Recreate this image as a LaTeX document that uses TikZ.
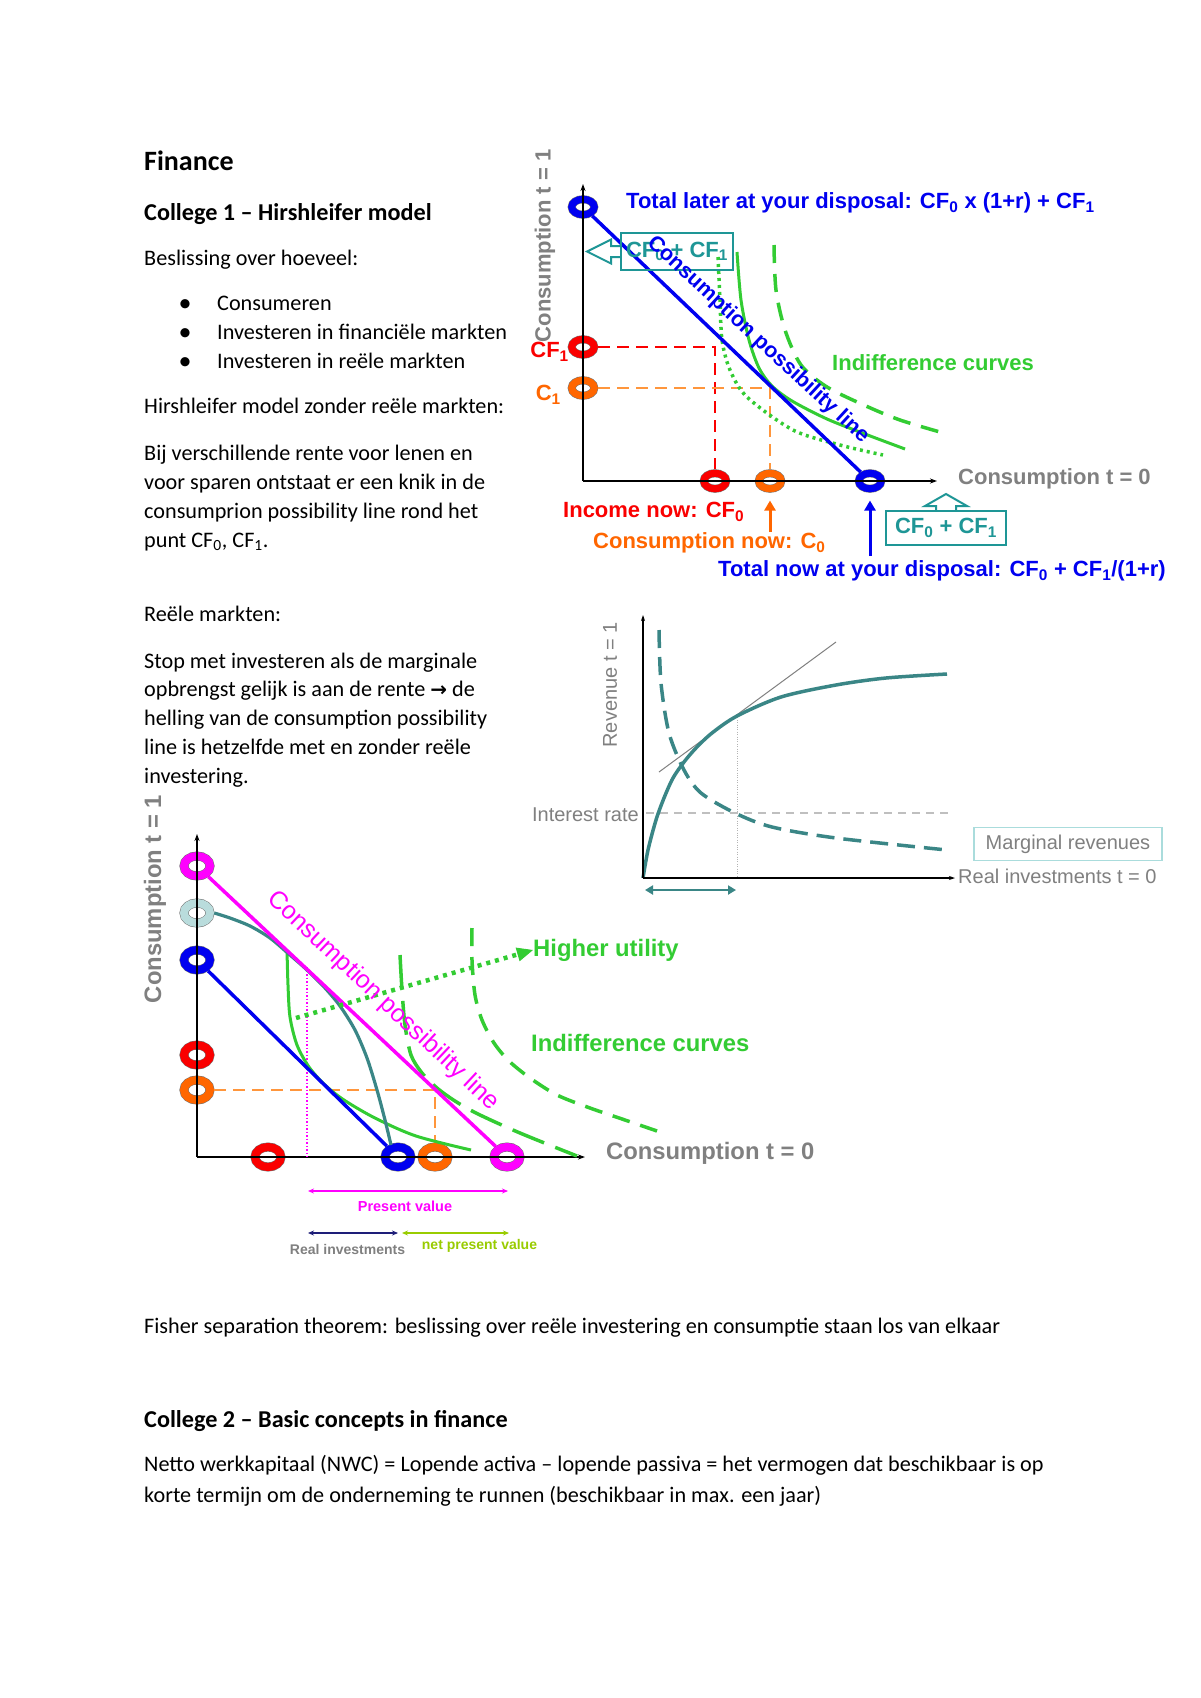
\documentclass[tikz,border=0pt]{standalone}
\usepackage{fontspec}
\setmainfont{Carlito}
\newfontfamily\arial{Liberation Sans}
\newfontfamily\dejavu{DejaVu Sans}
\usetikzlibrary{arrows.meta,shapes.geometric,calc}
\definecolor{cblue}{RGB}{0,0,240}
\definecolor{cred}{RGB}{250,0,0}
\definecolor{corange}{RGB}{255,102,0}
\definecolor{corangel}{RGB}{255,150,60}
\definecolor{cgreen}{RGB}{51,204,51}
\definecolor{cgray}{RGB}{128,128,128}
\definecolor{cteal}{RGB}{58,134,134}
\definecolor{cteal2}{RGB}{30,150,150}
\definecolor{cltteal}{RGB}{170,220,220}
\definecolor{cmag}{RGB}{255,0,255}
\definecolor{cpale}{RGB}{185,220,220}
\definecolor{cnavy}{RGB}{30,30,120}
\definecolor{cyg}{RGB}{153,204,0}
\begin{document}
\begin{tikzpicture}[x=1pt,y=-1pt,
  body/.style={anchor=base west,inner sep=0pt,font=\fontsize{22.2}{26}\selectfont},
  head/.style={anchor=base west,inner sep=0pt,font=\bfseries\fontsize{24.2}{28}\selectfont},
  lbl/.style={inner sep=0pt,font=\arial\bfseries\fontsize{22}{26}\selectfont},
  lblbig/.style={inner sep=0pt,font=\arial\bfseries\fontsize{23.8}{28}\selectfont},
  lblr/.style={inner sep=0pt,font=\arial\fontsize{20}{24}\selectfont,text=cgray},
  lblsmall/.style={inner sep=0pt,font=\arial\bfseries\fontsize{14.5}{17}\selectfont},
  ring/.style={ellipse,draw=black!55,line width=0.5pt,double=#1,double distance=7pt,fill=white,minimum width=22.5pt,minimum height=15.5pt,inner sep=0pt,outer sep=3.8pt},
  bigring/.style={ring=#1,double distance=8pt,minimum width=26pt,minimum height=20pt,outer sep=4.3pt},
  axisline/.style={line width=1.6pt,-{Stealth[length=7pt,width=5pt]}},
  tbox/.style={draw=cteal2,line width=2pt,text=cteal2,font=\arial\bfseries\fontsize{22}{26}\selectfont,inner sep=0pt},
  reddash/.style={cred,line width=1.6pt,dash pattern=on 12pt off 7pt},
  orangedash/.style={corangel,line width=1.8pt,dash pattern=on 12pt off 7pt},
  greensolid/.style={cgreen,line width=3pt},
  greendot/.style={cgreen,line width=3.5pt,dash pattern=on 3pt off 4pt},
  greendash/.style={cgreen,line width=3.5pt,dash pattern=on 18pt off 11pt},
  uparrow/.style={line width=3pt,-{Triangle[length=10pt,width=11pt]}},
  dbl/.style={line width=1.4pt,{Stealth[length=6pt,width=5pt]}-{Stealth[length=6pt,width=5pt]}}
]
\useasboundingbox (0,0) rectangle (1200,1698);
\fill[white] (0,0) rectangle (1200,1698);

%% ---------------- left column text ----------------
\node[head,font=\bfseries\fontsize{28}{32}\selectfont] (fin) at (144,170) {Finance};
\node[head] (col1) at (144,220) {College 1 – Hirshleifer model};
\node[body] (b1) at (144,265) {Beslissing over hoeveel:};
\node[body,anchor=base,font=\fontsize{26}{26}\selectfont] (bu1) at (185,311) {•};
\node[body] (l1) at (217,310) {Consumeren};
\node[body,anchor=base,font=\fontsize{26}{26}\selectfont] (bu2) at (185,340) {•};
\node[body] (l2) at (217,339) {Investeren in financiële markten};
\node[body,anchor=base,font=\fontsize{26}{26}\selectfont] (bu3) at (185,369) {•};
\node[body] (l3) at (217,368) {Investeren in reële markten};
\node[body] (p1) at (144,413) {Hirshleifer model zonder reële markten:};
\node[body] (p2a) at (144,460) {Bij verschillende rente voor lenen en};
\node[body] (p2b) at (144,489) {voor sparen ontstaat er een knik in de};
\node[body] (p2c) at (144,518) {consumprion possibility line rond het};
\node[body] (p2d) at (144,547) {punt CF\textsubscript{0}, CF\textsubscript{1}.};
\node[body] (p3) at (144,621) {Reële markten:};
\node[body] (p4a) at (144,668) {Stop met investeren als de marginale};
\node[body] (p4b) at (144,696) {opbrengst gelijk is aan de rente {\dejavu\bfseries\fontsize{20}{22}\selectfont →} de};
\node[body] (p4c) at (144,725) {helling van de consumption possibility};
\node[body] (p4d) at (144,754) {line is hetzelfde met en zonder reële};
\node[body] (p4e) at (144,783) {investering.};
\node[body] (fs) at (144,1333) {Fisher separation theorem: beslissing over reële investering en consumptie staan los van elkaar};
\node[head] (col2) at (144,1427) {College 2 – Basic concepts in finance};
\node[body] (n1) at (144,1471) {Netto werkkapitaal (NWC) = Lopende activa – lopende passiva = het vermogen dat beschikbaar is op};
\node[body] (n2) at (144,1502) {korte termijn om de onderneming te runnen (beschikbaar in max. een jaar)};

%% ---------------- diagram A (top right) ----------------
\node[ring=cblue] (aYB) at (583,207) {};
\node[ring=cred] (aYR) at (583,347) {};
\node[ring=corange] (aYO) at (583,388) {};
\node[ring=cred] (aXR) at (715,481) {};
\node[ring=corange] (aXO) at (770,481) {};
\node[ring=cblue] (aXB) at (870,481) {};
\coordinate (aO) at (583,481);
\coordinate (aYT) at (583,184);
\coordinate (aXT) at (937,481);
\draw[axisline] (aO) -- (aYT);
\draw[axisline] (aO) -- (aXT);
\draw[reddash] (aYR) -| (aXR);
\draw[orangedash] (aYO) -| (aXO);
\draw[greendot] plot[smooth] coordinates {(718,257) (720,300) (722,340) (730,370) (747,397) (793,430) (840,445) (883,455)};
\draw[greendash] plot[smooth] coordinates {(774,245) (776,290) (785,330) (801,365) (827,387) (866,406) (900,420) (940,432)};
\draw[greensolid] plot[smooth] coordinates {(737,252) (741,300) (749,340) (759,368) (772,386) (792,401) (827,419) (865,434) (905,449)};
\draw[cblue,line width=3.5pt] (aYB) -- (aXB);
\node[tbox,minimum width=112pt,minimum height=37pt] (aBox1) at (677,251.5) {CF\textsubscript{0} + CF\textsubscript{1}};
\draw[cteal2,line width=2pt,line join=miter] (aBox1.west) ++(0,-5.5) -- ++(-9,0) -- ++(0,-6.5) -- ++(-24,12) -- ++(24,12) -- ++(0,-6.5) -- ++(9,0);
\node[inner sep=0pt,text=cblue,rotate=-42.8,font=\arial\bfseries\fontsize{21.5}{24}\selectfont] (aCPL) at (758,340) {Consumption possibility line};
\node[lbl,text=cblue,anchor=west] (aTL) at (626,203) {Total later at your disposal: CF\textsubscript{0} x (1+r) + CF\textsubscript{1}};
\node[lbl,text=cgray,rotate=90] (aYL) at (545,246) {Consumption t = 1};
\node[lbl,text=cred,anchor=east] (aCF1) at (569,352) {CF\textsubscript{1}};
\node[lbl,text=corange,anchor=east] (aC1) at (561,395) {C\textsubscript{1}};
\node[lbl,text=cgreen,anchor=west] (aIC) at (832,363) {Indifference curves};
\node[lbl,text=cgray,anchor=west] (aXL) at (958,479) {Consumption t = 0};
\node[tbox,minimum width=120pt,minimum height=34pt] (aBox2) at (946,528) {CF\textsubscript{0} + CF\textsubscript{1}};
\draw[cteal2,line width=2pt,line join=miter] (aBox2.north) ++(-10,0) -- ++(0,-4) -- ++(-11,0) -- ++(21,-12) -- ++(21,12) -- ++(-11,0) -- ++(0,4);
\node[lbl,text=cred,anchor=west] (aInc) at (563,512) {Income now: CF\textsubscript{0}};
\node[lbl,text=corange,anchor=west] (aCN) at (593,543) {Consumption now: C\textsubscript{0}};
\node[lbl,text=cblue,anchor=west] (aTN) at (718,571) {Total now at your disposal: CF\textsubscript{0} + CF\textsubscript{1}/(1+r)};
\coordinate (aOA) at (770,532);
\draw[uparrow,corange,shorten >=8pt] (aOA) -- (aXO);
\coordinate (aBA) at (870,556);
\draw[uparrow,cblue,shorten >=8pt] (aBA) -- (aXB);

%% ---------------- diagram B (revenue) ----------------
\coordinate (bO) at (643,878);
\coordinate (bYT) at (643,615);
\coordinate (bXT) at (955,878);
\draw[line width=0.8pt,cgray!60,dash pattern=on 0.8pt off 1.6pt] (737,715) -- (737,878);
\draw[line width=2.5pt,black!25,dash pattern=on 8pt off 6pt] (646,813) -- (948,813);
\draw[line width=1pt,cgray] (659,772) -- (836,642);
\draw[cteal,line width=3.5pt] plot[smooth] coordinates {(643,878) (648,850) (656,820) (664,798) (673,778) (684,762) (696,748) (712,733) (737,716) (781,697) (836,685) (886,678) (947,674)};
\draw[cteal,line width=3.5pt,dash pattern=on 18pt off 9pt] plot[smooth] coordinates {(659,630) (661,683) (669,733) (684,770) (701,793) (735,813) (772,827) (836,838) (947,850)};
\draw[line width=1.6pt,-{Stealth[length=6pt,width=4pt]}] (bO) -- (bYT);
\draw[line width=1.6pt,-{Stealth[length=6pt,width=4pt]}] (bO) -- (bXT);
\node[lblr,anchor=east] (bIR) at (639,815) {Interest rate};
\node[lblr,rotate=90] (bYL) at (610,685) {Revenue t = 1};
\node[lblr,draw=cltteal,line width=1.5pt,minimum width=188pt,minimum height=33pt] (bMR) at (1068,844) {Marginal revenues};
\node[lblr,anchor=west] (bXL) at (958,876) {Real investments t = 0};
\coordinate (bA1) at (645,890);
\coordinate (bA2) at (736,890);
\draw[cteal,line width=2.5pt,{Triangle[length=8pt,width=9pt]}-{Triangle[length=8pt,width=9pt]}] (bA1) -- (bA2);

%% ---------------- diagram C (bottom left) ----------------
\node[bigring=cmag] (cYM) at (197,866) {};
\node[bigring=cpale] (cYL) at (197,913) {};
\node[bigring=cblue] (cYB) at (197,960) {};
\node[bigring=cred] (cYR) at (197,1055) {};
\node[bigring=corange] (cYO) at (197,1090) {};
\node[bigring=cred] (cXR) at (268,1157) {};
\node[bigring=cblue] (cXB) at (398,1157) {};
\node[bigring=corange] (cXO) at (435,1157) {};
\node[bigring=cmag] (cXM) at (507,1157) {};
\coordinate (cO) at (197,1157);
\coordinate (cYT) at (197,834);
\coordinate (cXT) at (585,1157);
\draw[axisline] (cO) -- (cYT);
\draw[axisline] (cO) -- (cXT);
\draw[orangedash] (cYO) -| (cXO);
\draw[cmag,line width=1.5pt,dash pattern=on 1.5pt off 2pt] (307,967) -- (307,1157);
\draw[greendash] plot[smooth] coordinates {(472,928) (472,960) (475,995) (482,1020) (494,1043) (509,1061) (530,1078) (557,1095) (590,1108) (625,1120) (657,1131)};
\draw[cgreen,line width=3.5pt,dash pattern=on 34pt off 12pt] plot[smooth] coordinates {(400,955) (402,990) (405,1025) (411,1055) (422,1073) (437,1088) (455,1101) (478,1114) (520,1133) (577,1156)};
\draw[greensolid] plot[smooth] coordinates {(287,950) (288,985) (290,1017) (297,1045) (309,1067) (325,1085) (344,1100) (375,1118) (416,1136) (471,1150)};
\draw[cteal,line width=3.2pt] plot[smooth] coordinates {(cYL.east) (230,918) (250,926) (270,938) (290,955) (307,970) (325,988) (340,1006) (355,1030) (367,1058) (377,1090) (385,1120) (391,1145)};
\draw[cblue,line width=3.5pt] (cYB) -- (cXB);
\draw[cmag,line width=3.5pt] (cYM) -- (cXM);
\coordinate (cHU0) at (296,1018);
\node[lblbig,text=cgreen,anchor=west] (cHU) at (533,950) {Higher utility};
\draw[cgreen,line width=4.5pt,dash pattern=on 4pt off 5pt,shorten >=12pt] (cHU0) -- (cHU.west);
\draw[cgreen,line width=1pt,-{Triangle[length=16pt,width=14pt]}] ($(cHU.west)!14pt!(cHU0)$) -- (cHU.west);
\node[inner sep=0pt,text=cmag,rotate=-43.2,font=\arial\fontsize{25}{28}\selectfont] (cCPL) at (383,1001) {Consumption possibility line};
\node[lblbig,text=cgreen,anchor=west] (cIC) at (531,1043) {Indifference curves};
\node[lblbig,text=cgray,anchor=west] (cXL) at (606,1153) {Consumption t = 0};
\node[lblbig,text=cgray,rotate=90] (cYLab) at (155,899) {Consumption t = 1};
\coordinate (cPV1) at (308,1191);
\coordinate (cPV2) at (508,1191);
\draw[dbl,cmag] (cPV1) -- (cPV2);
\node[lblsmall,text=cmag] (cPV) at (405,1206) {Present value};
\coordinate (cRI1) at (308,1233);
\coordinate (cRI2) at (398,1233);
\draw[dbl,cnavy] (cRI1) -- (cRI2);
\node[lblsmall,text=cgray,font=\arial\bfseries\fontsize{14}{17}\selectfont] (cRI) at (347.5,1249) {Real investments};
\coordinate (cNP1) at (402,1233);
\coordinate (cNP2) at (509,1233);
\draw[dbl,cyg] (cNP1) -- (cNP2);
\node[lblsmall,text=cyg,font=\arial\bfseries\fontsize{14}{17}\selectfont] (cNP) at (479.5,1246) {net present value};
\end{tikzpicture}
\end{document}
